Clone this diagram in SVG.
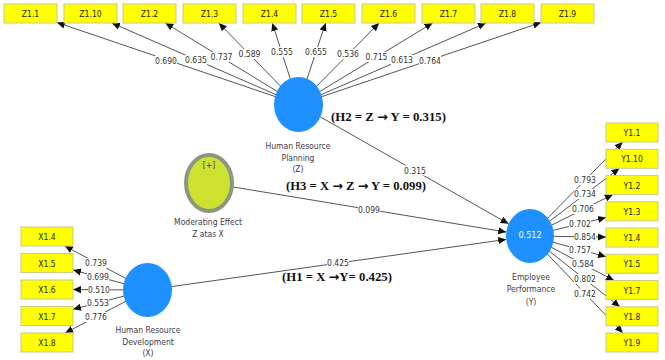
<svg xmlns="http://www.w3.org/2000/svg" width="665" height="360" viewBox="0 0 665 360">
<defs>
<marker id="arr" viewBox="0 0 10 10" refX="10" refY="5" markerWidth="8" markerHeight="8" markerUnits="userSpaceOnUse" orient="auto">
<path d="M0,0.5 L10,5 L0,9.5 z" fill="#111"/>
</marker>
</defs>
<style>
.ln{stroke:#555;stroke-width:1;fill:none;marker-end:url(#arr)}
.box{fill:#ffff00;stroke:#c9c98a;stroke-width:1}
.bt{font-family:"DejaVu Sans Condensed","DejaVu Sans",sans-serif;font-size:8.5px;fill:#222;text-anchor:middle}
.lb{font-family:"DejaVu Sans Condensed","DejaVu Sans",sans-serif;font-size:8.5px;fill:#333;text-anchor:middle}
.lbg{fill:#fff}
.nt{font-family:"DejaVu Sans Condensed","DejaVu Sans",sans-serif;font-size:8.5px;fill:#3f3a50;text-anchor:middle}
.lv{fill:#1e90ff}
.mod{fill:#cde130;stroke:#8c9680;stroke-width:4}
.ann{font-family:"Liberation Serif",serif;font-weight:bold;font-size:12px;fill:#111}
.ar{font-family:"DejaVu Sans",sans-serif;font-weight:bold;font-size:12px}
</style>

<g id="connectors">
<!-- Z indicators -->
<line class="ln" x1="298.5" y1="104.5" x2="57" y2="22.5"/>
<line class="ln" x1="298.5" y1="104.5" x2="111.9" y2="23"/>
<line class="ln" x1="298.5" y1="104.5" x2="165.3" y2="23"/>
<line class="ln" x1="298.5" y1="104.5" x2="218.8" y2="23"/>
<line class="ln" x1="298.5" y1="104.5" x2="272.3" y2="23"/>
<line class="ln" x1="298.5" y1="104.5" x2="325.6" y2="23"/>
<line class="ln" x1="298.5" y1="104.5" x2="379.1" y2="23"/>
<line class="ln" x1="298.5" y1="104.5" x2="432.6" y2="23"/>
<line class="ln" x1="298.5" y1="104.5" x2="485.9" y2="23"/>
<line class="ln" x1="298.5" y1="104.5" x2="541" y2="22.5"/>
<!-- X indicators -->
<line class="ln" x1="147.5" y1="290" x2="64.8" y2="246"/>
<line class="ln" x1="147.5" y1="290" x2="73" y2="270"/>
<line class="ln" x1="147.5" y1="290" x2="73" y2="289.6"/>
<line class="ln" x1="147.5" y1="290" x2="73" y2="309.3"/>
<line class="ln" x1="147.5" y1="290" x2="65.2" y2="333"/>
<!-- Y indicators -->
<line class="ln" x1="530" y1="236" x2="622.6" y2="142"/>
<line class="ln" x1="530" y1="236" x2="619.4" y2="168.3"/>
<line class="ln" x1="530" y1="236" x2="612.9" y2="194.5"/>
<line class="ln" x1="530" y1="236" x2="606" y2="217.5"/>
<line class="ln" x1="530" y1="236" x2="606" y2="237.1"/>
<line class="ln" x1="530" y1="236" x2="606" y2="256.7"/>
<line class="ln" x1="530" y1="236" x2="614" y2="280.5"/>
<line class="ln" x1="530" y1="236" x2="619.9" y2="306.8"/>
<line class="ln" x1="530" y1="236" x2="622.9" y2="333"/>
<!-- structural paths -->
<line class="ln" x1="298.5" y1="104.5" x2="508.6" y2="223.8"/>
<line class="ln" x1="209" y1="183" x2="506.3" y2="232.1"/>
<line class="ln" x1="147.5" y1="290" x2="506.2" y2="239.4"/>

<!-- labels -->
<g>
<rect class="lbg" x="155" y="55.5" width="22" height="10"/><text class="lb" x="166" y="63.5">0.690</text>
<rect class="lbg" x="185" y="55" width="22" height="10"/><text class="lb" x="196" y="63">0.635</text>
<rect class="lbg" x="210.5" y="52" width="22" height="10"/><text class="lb" x="221.5" y="60">0.737</text>
<rect class="lbg" x="238.5" y="49" width="22" height="10"/><text class="lb" x="249.5" y="57">0.589</text>
<rect class="lbg" x="271" y="47" width="22" height="10"/><text class="lb" x="282" y="55">0.555</text>
<rect class="lbg" x="305" y="47" width="22" height="10"/><text class="lb" x="316" y="55">0.655</text>
<rect class="lbg" x="337" y="49" width="22" height="10"/><text class="lb" x="348" y="57">0.536</text>
<rect class="lbg" x="365.5" y="52" width="22" height="10"/><text class="lb" x="376.5" y="60">0.715</text>
<rect class="lbg" x="391" y="55" width="22" height="10"/><text class="lb" x="402" y="63">0.613</text>
<rect class="lbg" x="419" y="55.5" width="22" height="10"/><text class="lb" x="430" y="63.5">0.764</text>

<rect class="lbg" x="85" y="258" width="22" height="10"/><text class="lb" x="96" y="266">0.739</text>
<rect class="lbg" x="87" y="272" width="22" height="10"/><text class="lb" x="98" y="280">0.699</text>
<rect class="lbg" x="88" y="284.5" width="22" height="10"/><text class="lb" x="99" y="292.5">0.510</text>
<rect class="lbg" x="87" y="297.5" width="22" height="10"/><text class="lb" x="98" y="305.5">0.553</text>
<rect class="lbg" x="85" y="312" width="22" height="10"/><text class="lb" x="96" y="320">0.776</text>

<rect class="lbg" x="574" y="175" width="22" height="10"/><text class="lb" x="585" y="183">0.793</text>
<rect class="lbg" x="574" y="189" width="22" height="10"/><text class="lb" x="585" y="197">0.734</text>
<rect class="lbg" x="572" y="204" width="22" height="10"/><text class="lb" x="583" y="212">0.706</text>
<rect class="lbg" x="569" y="219" width="22" height="10"/><text class="lb" x="580" y="227">0.702</text>
<rect class="lbg" x="574" y="232" width="22" height="10"/><text class="lb" x="585" y="240">0.854</text>
<rect class="lbg" x="569" y="245" width="22" height="10"/><text class="lb" x="580" y="253">0.757</text>
<rect class="lbg" x="572" y="259" width="22" height="10"/><text class="lb" x="583" y="267">0.584</text>
<rect class="lbg" x="574" y="274" width="22" height="10"/><text class="lb" x="585" y="282">0.802</text>
<rect class="lbg" x="574" y="288.5" width="22" height="10"/><text class="lb" x="585" y="296.5">0.742</text>

<rect class="lbg" x="404" y="165.5" width="22" height="10"/><text class="lb" x="415" y="173.5">0.315</text>
<rect class="lbg" x="358" y="204.5" width="22" height="10"/><text class="lb" x="369" y="212.5">0.099</text>
<rect class="lbg" x="327" y="258" width="22" height="10"/><text class="lb" x="338" y="266">0.425</text>
</g>
</g>

<!-- Z indicator boxes -->
<g id="Z1.1"><rect class="box" x="4" y="4" width="53" height="19"/><text class="bt" x="30.5" y="17">Z1.1</text></g>
<g id="Z1.10"><rect class="box" x="64" y="4" width="53" height="19"/><text class="bt" x="90.5" y="17">Z1.10</text></g>
<g id="Z1.2"><rect class="box" x="123" y="4" width="53" height="19"/><text class="bt" x="149.5" y="17">Z1.2</text></g>
<g id="Z1.3"><rect class="box" x="183" y="4" width="53" height="19"/><text class="bt" x="209.5" y="17">Z1.3</text></g>
<g id="Z1.4"><rect class="box" x="243" y="4" width="53" height="19"/><text class="bt" x="269.5" y="17">Z1.4</text></g>
<g id="Z1.5"><rect class="box" x="302" y="4" width="53" height="19"/><text class="bt" x="328.5" y="17">Z1.5</text></g>
<g id="Z1.6"><rect class="box" x="362" y="4" width="53" height="19"/><text class="bt" x="388.5" y="17">Z1.6</text></g>
<g id="Z1.7"><rect class="box" x="422" y="4" width="53" height="19"/><text class="bt" x="448.5" y="17">Z1.7</text></g>
<g id="Z1.8"><rect class="box" x="481" y="4" width="53" height="19"/><text class="bt" x="507.5" y="17">Z1.8</text></g>
<g id="Z1.9"><rect class="box" x="541" y="4" width="53" height="19"/><text class="bt" x="567.5" y="17">Z1.9</text></g>

<!-- X indicator boxes -->
<g id="X1.4"><rect class="box" x="21" y="227" width="52" height="19"/><text class="bt" x="47" y="240">X1.4</text></g>
<g id="X1.5"><rect class="box" x="21" y="253.5" width="52" height="19"/><text class="bt" x="47" y="266.5">X1.5</text></g>
<g id="X1.6"><rect class="box" x="21" y="280" width="52" height="19"/><text class="bt" x="47" y="293">X1.6</text></g>
<g id="X1.7"><rect class="box" x="21" y="306.5" width="52" height="19"/><text class="bt" x="47" y="319.5">X1.7</text></g>
<g id="X1.8"><rect class="box" x="21" y="333" width="52" height="19"/><text class="bt" x="47" y="346">X1.8</text></g>

<!-- Y indicator boxes -->
<g id="Y1.1"><rect class="box" x="606" y="123" width="52" height="19"/><text class="bt" x="632" y="136">Y1.1</text></g>
<g id="Y1.10"><rect class="box" x="606" y="149.3" width="52" height="19"/><text class="bt" x="632" y="162.3">Y1.10</text></g>
<g id="Y1.2"><rect class="box" x="606" y="175.5" width="52" height="19"/><text class="bt" x="632" y="188.5">Y1.2</text></g>
<g id="Y1.3"><rect class="box" x="606" y="201.8" width="52" height="19"/><text class="bt" x="632" y="214.8">Y1.3</text></g>
<g id="Y1.4"><rect class="box" x="606" y="228" width="52" height="19"/><text class="bt" x="632" y="241">Y1.4</text></g>
<g id="Y1.5"><rect class="box" x="606" y="254.3" width="52" height="19"/><text class="bt" x="632" y="267.3">Y1.5</text></g>
<g id="Y1.7"><rect class="box" x="606" y="280.5" width="52" height="19"/><text class="bt" x="632" y="293.5">Y1.7</text></g>
<g id="Y1.8"><rect class="box" x="606" y="306.8" width="52" height="19"/><text class="bt" x="632" y="319.8">Y1.8</text></g>
<g id="Y1.9"><rect class="box" x="606" y="333" width="52" height="19"/><text class="bt" x="632" y="346">Y1.9</text></g>

<!-- Latent variables -->
<g id="Z">
<ellipse class="lv" cx="298.5" cy="104.5" rx="24.5" ry="27.5"/>
<text class="nt" x="298" y="149">Human Resource</text>
<text class="nt" x="298" y="161">Planning</text>
<text class="nt" x="298" y="172">(Z)</text>
</g>
<g id="Moderating">
<ellipse class="mod" cx="209" cy="183" rx="23" ry="28"/>
<text class="nt" x="209" y="168">[+]</text>
<text class="nt" x="208" y="225">Moderating Effect</text>
<text class="nt" x="208" y="237">Z atas X</text>
</g>
<g id="X">
<ellipse class="lv" cx="147.5" cy="290" rx="24.5" ry="27"/>
<text class="nt" x="148" y="333">Human Resource</text>
<text class="nt" x="148" y="345">Development</text>
<text class="nt" x="148" y="356">(X)</text>
</g>
<g id="Y">
<ellipse class="lv" cx="530" cy="236" rx="24" ry="27"/>
<text class="nt" x="530" y="237.5" style="fill:#fff;font-size:9px">0.512</text>
<text class="nt" x="531" y="280">Employee</text>
<text class="nt" x="531" y="292">Performance</text>
<text class="nt" x="531" y="305">(Y)</text>
</g>

<!-- Hypothesis annotations -->
<g id="annotations">
<text class="ann" x="331" y="121" textLength="115" lengthAdjust="spacingAndGlyphs">(H2 = Z <tspan class="ar">→</tspan> Y = 0.315)</text>
<text class="ann" x="286" y="190" textLength="140" lengthAdjust="spacingAndGlyphs">(H3 = X <tspan class="ar">→</tspan> Z <tspan class="ar">→</tspan> Y = 0.099)</text>
<text class="ann" x="282" y="281" textLength="110" lengthAdjust="spacingAndGlyphs">(H1 = X <tspan class="ar">→</tspan>Y= 0.425)</text>
</g>
</svg>
